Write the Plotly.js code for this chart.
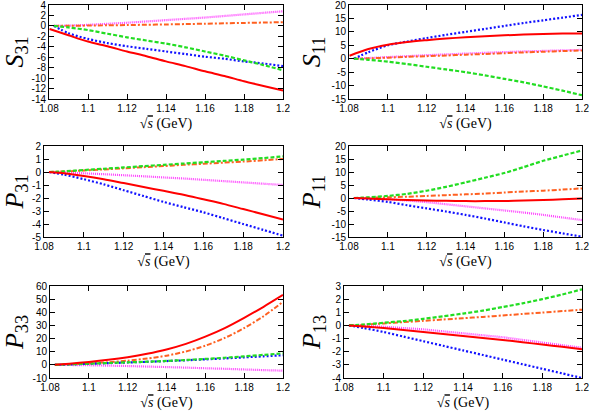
<!DOCTYPE html>
<html>
<head>
<meta charset="utf-8">
<script src="https://cdn.plot.ly/plotly-3.0.1.min.js"></script>
<style>
  html, body { margin: 0; padding: 0; background: #fff; }
  #graph { width: 591px; height: 413px; }
</style>
</head>
<body>
<div id="graph"></div>
<script>
// sqrt(s) in GeV, from threshold up to 1.2
var sqrtS = [1.0825, 1.09, 1.10, 1.11, 1.12, 1.13, 1.14, 1.15, 1.16, 1.17, 1.18, 1.19, 1.20];
// the solid S-wave curves start right at the left edge
var sqrtSEdge = [1.0803, 1.09, 1.10, 1.11, 1.12, 1.13, 1.14, 1.15, 1.16, 1.17, 1.18, 1.19, 1.20];

// S31
var s31Red     = [-0.6, -1.8, -3.0, -3.9, -4.9, -5.8, -6.8, -7.7, -8.7, -9.6, -10.6, -11.5, -12.4];
var s31Blue    = [0, -1.4, -2.5, -3.3, -3.9, -4.4, -4.9, -5.4, -5.9, -6.3, -6.8, -7.2, -7.7];
var s31Green   = [0, -0.3, -0.8, -1.5, -2.2, -2.8, -3.4, -4.1, -4.9, -5.7, -6.6, -7.5, -8.5];
var s31Orange  = [0, 0.02, 0.06, 0.11, 0.16, 0.22, 0.28, 0.35, 0.42, 0.5, 0.57, 0.64, 0.72];
var s31Magenta = [0, 0.05, 0.2, 0.4, 0.6, 0.85, 1.1, 1.35, 1.6, 1.9, 2.2, 2.5, 2.8];

// S11
var s11Red     = [1.1, 3.6, 5.2, 6.2, 6.9, 7.5, 8.0, 8.4, 8.7, 9.0, 9.2, 9.35, 9.4];
var s11Blue    = [0, 2.4, 5.0, 6.4, 7.7, 8.9, 10.0, 11.1, 12.2, 13.3, 14.3, 15.3, 16.3];
var s11Green   = [0, -0.4, -1.1, -2.0, -3.0, -4.0, -5.0, -6.2, -7.5, -8.8, -10.3, -11.9, -13.6];
var s11Orange  = [0, 0.15, 0.4, 0.7, 0.95, 1.2, 1.5, 1.75, 2.05, 2.35, 2.6, 2.85, 3.1];
var s11Magenta = [0, 0.25, 0.6, 0.95, 1.3, 1.6, 1.9, 2.2, 2.45, 2.7, 2.9, 3.1, 3.3];

// P31
var p31Red     = [0, -0.1, -0.3, -0.55, -0.85, -1.15, -1.45, -1.75, -2.1, -2.45, -2.85, -3.25, -3.65];
var p31Blue    = [0, -0.2, -0.55, -0.95, -1.4, -1.85, -2.3, -2.7, -3.1, -3.55, -4.0, -4.45, -4.9];
var p31Green   = [0, 0.05, 0.15, 0.25, 0.35, 0.45, 0.55, 0.65, 0.75, 0.85, 0.95, 1.07, 1.2];
var p31Orange  = [0, 0.04, 0.12, 0.2, 0.28, 0.37, 0.46, 0.55, 0.63, 0.72, 0.8, 0.9, 1.0];
var p31Magenta = [0, -0.03, -0.1, -0.17, -0.25, -0.33, -0.42, -0.5, -0.6, -0.7, -0.8, -0.9, -1.0];

// P11
var p11Red     = [0, -0.2, -0.5, -0.8, -1.0, -1.1, -1.2, -1.2, -1.15, -1.0, -0.8, -0.5, -0.2];
var p11Blue    = [0, -0.6, -1.5, -2.8, -4.0, -5.2, -6.5, -7.9, -9.4, -10.9, -12.3, -13.6, -14.9];
var p11Green   = [0, 0.25, 0.8, 1.6, 2.8, 4.3, 6.0, 7.8, 9.6, 11.9, 14.3, 16.3, 18.3];
var p11Orange  = [0, 0.1, 0.25, 0.5, 0.8, 1.1, 1.4, 1.7, 2.1, 2.5, 2.8, 3.25, 3.7];
var p11Magenta = [0, -0.2, -0.5, -1.0, -1.6, -2.4, -3.2, -4.0, -4.8, -5.6, -6.5, -7.5, -8.5];

// P33
var p33Red     = [0, 0.9, 2.2, 3.8, 5.8, 8.4, 11.7, 16.0, 21.5, 28.0, 35.8, 44.2, 53.2];
var p33Blue    = [0, 0.3, 0.8, 1.3, 1.8, 2.3, 2.9, 3.5, 4.2, 4.9, 5.7, 6.5, 7.3];
var p33Green   = [0, 0.4, 0.9, 1.4, 1.9, 2.4, 3.0, 3.7, 4.5, 5.4, 6.5, 7.6, 8.8];
var p33Orange  = [0, 0.4, 1.1, 2.0, 3.2, 4.8, 7.0, 10.2, 14.6, 20.5, 28.0, 37.0, 48.0];
var p33Magenta = [0, -0.1, -0.3, -0.6, -0.9, -1.3, -1.7, -2.1, -2.6, -3.0, -3.5, -4.0, -4.4];

// P13
var p13Red     = [0, -0.08, -0.2, -0.35, -0.5, -0.65, -0.8, -0.95, -1.1, -1.28, -1.45, -1.63, -1.82];
var p13Blue    = [0, -0.2, -0.5, -0.85, -1.2, -1.55, -1.9, -2.25, -2.6, -2.95, -3.3, -3.65, -4.0];
var p13Green   = [0, 0.07, 0.2, 0.33, 0.5, 0.7, 0.9, 1.13, 1.4, 1.68, 2.0, 2.35, 2.75];
var p13Orange  = [0, 0.05, 0.15, 0.25, 0.35, 0.45, 0.55, 0.65, 0.76, 0.87, 0.98, 1.09, 1.2];
var p13Magenta = [0, -0.03, -0.1, -0.2, -0.3, -0.45, -0.6, -0.75, -0.9, -1.1, -1.3, -1.5, -1.7];

// tick labels
var xTicks = [1.08, 1.1, 1.12, 1.14, 1.16, 1.18, 1.2];
var yTicksS31 = [4, 2, 0, -2, -4, -6, -8, -10, -12, -14];
var yTicksS11 = [20, 15, 10, 5, 0, -5, -10, -15];
var yTicksP31 = [2, 1, 0, -1, -2, -3, -4, -5];
var yTicksP11 = [20, 15, 10, 5, 0, -5, -10, -15];
var yTicksP33 = [60, 50, 40, 30, 20, 10, 0, -10];
var yTicksP13 = [3, 2, 1, 0, -1, -2, -3, -4];

var styles = {
    red:     {color: '#ff0000', width: 2, dash: 'solid'},
    blue:    {color: '#1010ff', width: 2.2, dash: '2px,2px'},
    green:   {color: '#22dd22', width: 2.2, dash: '4px,2px'},
    orange:  {color: '#ff6020', width: 2, dash: '5px,2px,2px,2px'},
    magenta: {color: '#ff40ff', width: 2.2, dash: '1px,1px'}
};

var traces = [];
function addSet(n, red, blue, green, orange, magenta, xRed) {
    var sets = [['magenta', magenta], ['orange', orange], ['blue', blue], ['green', green], ['red', red]];
    sets.forEach(function(s) {
        traces.push({
            x: s[0] === 'red' && xRed ? xRed : sqrtS,
            y: s[1],
            type: 'scatter',
            mode: 'lines',
            line: Object.assign({shape: 'spline', smoothing: 0.8}, styles[s[0]]),
            xaxis: 'x' + (n === 1 ? '' : n),
            yaxis: 'y' + (n === 1 ? '' : n),
            showlegend: false,
            hoverinfo: 'skip'
        });
    });
}
addSet(1, s31Red, s31Blue, s31Green, s31Orange, s31Magenta, sqrtSEdge);
addSet(2, s11Red, s11Blue, s11Green, s11Orange, s11Magenta, sqrtSEdge);
addSet(3, p31Red, p31Blue, p31Green, p31Orange, p31Magenta);
addSet(4, p11Red, p11Blue, p11Green, p11Orange, p11Magenta);
addSet(5, p33Red, p33Blue, p33Green, p33Orange, p33Magenta);
addSet(6, p13Red, p13Blue, p13Green, p13Orange, p13Magenta);

var W = 591, H = 413;
// plot boxes in pixels: [left, right, top, bottom]
var boxes = [
    [49, 283, 5, 99], [349, 582, 5, 99],
    [44, 283, 146, 237], [349, 582, 146, 237],
    [50, 283, 286, 378], [344, 582, 286, 378]
];
var names = [['S', '31'], ['S', '11'], ['P', '31'], ['P', '11'], ['P', '33'], ['P', '13']];
var yTicks = [yTicksS31, yTicksS11, yTicksP31, yTicksP11, yTicksP33, yTicksP13];

var tickFont = {family: 'Liberation Sans, Arial, sans-serif', size: 10, color: '#000'};
var layout = {
    width: W, height: H,
    margin: {l: 0, r: 0, t: 0, b: 0},
    paper_bgcolor: '#fff',
    plot_bgcolor: '#fff',
    showlegend: false
};

for (var i = 0; i < 6; i++) {
    var b = boxes[i];
    var k = i === 0 ? '' : (i + 1);
    var yt = yTicks[i];
    layout['xaxis' + k] = {
        domain: [b[0] / W, b[1] / W],
        anchor: 'y' + k,
        range: [1.08, 1.2],
        tickvals: xTicks,
        ticktext: xTicks.map(String),
        ticks: 'inside', ticklen: 5, tickcolor: '#000',
        showline: true, linecolor: '#000', linewidth: 1, mirror: 'ticks',
        showgrid: false, zeroline: false,
        tickfont: tickFont,
        ticklabeloverflow: 'allow',
        title: {
            text: '\u221A<span style="text-decoration:overline"><i>s</i></span> (GeV)',
            font: {family: 'Liberation Serif, DejaVu Serif, serif', size: 14, color: '#000'},
            standoff: 5
        }
    };
    layout['yaxis' + k] = {
        domain: [1 - b[3] / H, 1 - b[2] / H],
        anchor: 'x' + k,
        range: [yt[yt.length - 1], yt[0]],
        tickvals: yt,
        ticktext: yt.map(String),
        ticks: 'inside', ticklen: 5, tickcolor: '#000',
        showline: true, linecolor: '#000', linewidth: 1, mirror: 'ticks',
        showgrid: false, zeroline: false,
        tickfont: tickFont,
        ticklabeloverflow: 'allow',
        title: {
            text: '<i>' + names[i][0] + '</i><sub>' + names[i][1] + '</sub>',
            font: {family: 'Liberation Serif, DejaVu Serif, serif', size: 26, color: '#000'},
            standoff: 3
        }
    };
}

Plotly.newPlot('graph', traces, layout, {displayModeBar: false, staticPlot: true});
</script>
</body>
</html>
